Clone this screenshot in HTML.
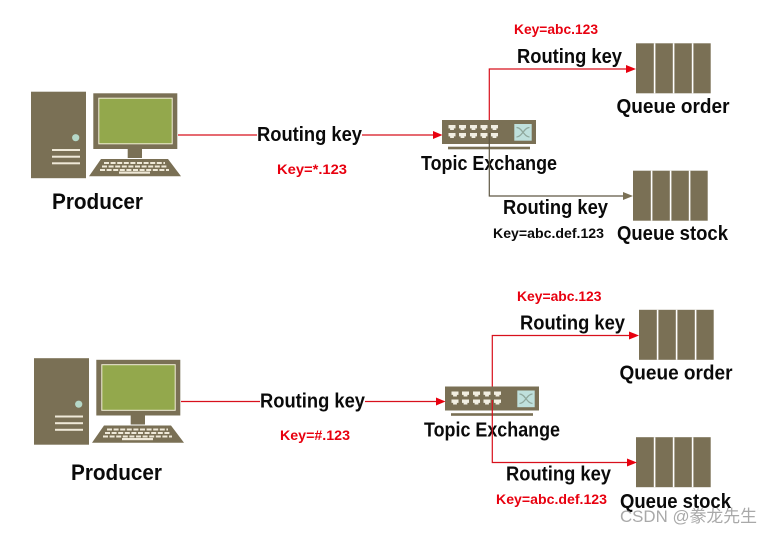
<!DOCTYPE html>
<html><head><meta charset="utf-8"><style>
html,body{margin:0;padding:0;background:#fff;width:772px;height:534px;overflow:hidden}
svg{display:block}
text{font-family:"Liberation Sans","Noto Sans CJK SC",sans-serif;font-weight:bold;fill:#0a0a0a}
.r{fill:#e8000f;font-size:14px}
.l{font-size:20.5px}
</style></head><body>
<svg width="772" height="534" viewBox="0 0 772 534" xmlns="http://www.w3.org/2000/svg">
<defs>
<g id="pc">
<rect x="31" y="91.7" width="55" height="86.5" fill="#7a7055"/>
<circle cx="75.7" cy="137.7" r="3.6" fill="#b5d8c8"/>
<g fill="#efe9d8"><rect x="52" y="149" width="28" height="2"/><rect x="52" y="155.7" width="28" height="2"/><rect x="52" y="162.3" width="28" height="2"/></g>
<rect x="93.3" y="93.3" width="84" height="55.7" fill="#7a7055"/>
<rect x="98.8" y="98.2" width="73.4" height="45.6" fill="#93a84c" stroke="#f2efd8" stroke-width="1"/>
<rect x="127.7" y="149" width="14.3" height="9" fill="#7a7055"/>
<polygon points="101,159 168,159 181,176.3 89,176.3" fill="#7a7055"/>
<path d="M104 163H165M102 166.5H167M100 170H169" stroke="#efe9d8" stroke-width="2" stroke-dasharray="5 1.6" fill="none"/>
<rect x="119" y="171.5" width="31" height="2.2" fill="#efe9d8"/>
</g>
<g id="port"><path d="M0 0H7V3.4H5.4V5H1.6V3.4H0Z" fill="#f2efe2"/></g>
<g id="sw">
<rect x="442" y="120" width="94" height="24" fill="#7a7055"/>
<rect x="448" y="146.7" width="82" height="2.6" fill="#7a7055"/>
<use href="#port" x="448.5" y="125"/><use href="#port" x="459" y="125"/><use href="#port" x="470" y="125"/><use href="#port" x="480.5" y="125"/><use href="#port" x="491" y="125"/>
<use href="#port" x="448.5" y="133"/><use href="#port" x="459" y="133"/><use href="#port" x="470" y="133"/><use href="#port" x="480.5" y="133"/><use href="#port" x="491" y="133"/>
<rect x="514.3" y="124" width="17.4" height="16.7" fill="#bfe0dc"/>
<path d="M516.5 127.5C522 127.5 524 137 529.5 137M516.5 137C522 137 524 127.5 529.5 127.5" stroke="#8fa79c" stroke-width="1.3" fill="none"/>
</g>
<g id="q">
<rect x="0" y="0" width="74.7" height="50" fill="#7a7055"/>
<rect x="17.8" y="0" width="1.6" height="50" fill="#fff"/><rect x="36.8" y="0" width="1.6" height="50" fill="#fff"/><rect x="55.8" y="0" width="1.6" height="50" fill="#fff"/>
</g>
<g id="top">
<use href="#pc"/>
<use href="#sw"/>
<use href="#q" x="636" y="43.3"/>
<use href="#q" x="633" y="170.7"/>
<path d="M178 135H257M362 135H433" stroke="#d8101c" stroke-width="1.2" fill="none"/>
<polygon points="433,131 442.5,135 433,139" fill="#e8000f"/>
<path d="M489.3 120V69H626" stroke="#d8101c" stroke-width="1.2" fill="none"/>
<polygon points="626,65 636,69 626,73" fill="#e8000f"/>
<text class="l" x="257" y="141" textLength="105" lengthAdjust="spacingAndGlyphs">Routing key</text>
<text class="l" x="421" y="170" textLength="136" lengthAdjust="spacingAndGlyphs">Topic Exchange</text>
<text class="l" x="517" y="63" textLength="105" lengthAdjust="spacingAndGlyphs">Routing key</text>
<text class="l" x="616.5" y="113" textLength="113" lengthAdjust="spacingAndGlyphs">Queue order</text>
<text class="l" x="503" y="214" textLength="105" lengthAdjust="spacingAndGlyphs">Routing key</text>
</g>
</defs>

<!-- top diagram -->
<use href="#top"/>
<path d="M489.3 133V196H623" stroke="#5f5843" stroke-width="1.2" fill="none"/>
<polygon points="623,192 633,196 623,200" fill="#7a7055"/>
<text x="52" y="209" font-size="22.5" textLength="91" lengthAdjust="spacingAndGlyphs">Producer</text>
<text class="r" x="277" y="174" textLength="70" lengthAdjust="spacingAndGlyphs">Key=*.123</text>
<text class="r" x="514" y="34" textLength="84" lengthAdjust="spacingAndGlyphs">Key=abc.123</text>
<text x="493" y="238" font-size="14" textLength="111" lengthAdjust="spacingAndGlyphs">Key=abc.def.123</text>
<text class="l" x="617" y="240" textLength="111" lengthAdjust="spacingAndGlyphs">Queue stock</text>

<!-- bottom diagram -->
<use href="#top" x="3" y="266.5"/>
<path d="M492.3 400V462.5H627" stroke="#d8101c" stroke-width="1.2" fill="none"/>
<polygon points="627,458.5 637,462.5 627,466.5" fill="#e8000f"/>
<text x="71" y="480" font-size="22.5" textLength="91" lengthAdjust="spacingAndGlyphs">Producer</text>
<text class="r" x="280" y="440" textLength="70" lengthAdjust="spacingAndGlyphs">Key=#.123</text>
<text class="r" x="517" y="301" textLength="84.5" lengthAdjust="spacingAndGlyphs">Key=abc.123</text>
<text class="r" x="496" y="504" textLength="111" lengthAdjust="spacingAndGlyphs">Key=abc.def.123</text>
<text class="l" x="620" y="508" textLength="111" lengthAdjust="spacingAndGlyphs">Queue stock</text>

<text x="620" y="522" font-size="17" textLength="137" lengthAdjust="spacingAndGlyphs" style="font-weight:normal;fill:#9a9a9a;fill-opacity:.85">CSDN @豢龙先生</text>
</svg>
</body></html>
